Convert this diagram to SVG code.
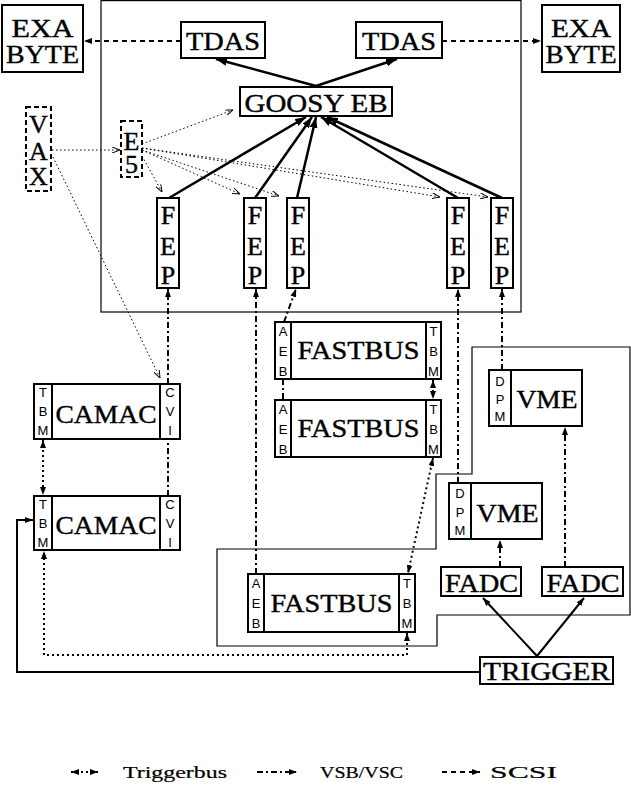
<svg xmlns="http://www.w3.org/2000/svg" width="631" height="787" viewBox="0 0 631 787">
<style>
.b{fill:#fff;stroke:#000;stroke-width:2}
.d{stroke:#000;stroke-width:2}
.frame{fill:none;stroke:#000;stroke-width:1.2}
.t{font-family:"Liberation Serif",serif;font-size:26px;text-anchor:middle;fill:#000;stroke:#000;stroke-width:0.4}
.s{font-family:"Liberation Sans",sans-serif;font-size:13px;text-anchor:middle;fill:#000}
.lg{font-family:"Liberation Serif",serif;font-size:17px;fill:#000;stroke:#000;stroke-width:0.2}
.scsi{fill:none;stroke:#000;stroke-width:2;stroke-dasharray:5 4}
.vsb{fill:none;stroke:#000;stroke-width:2;stroke-dasharray:6 3 2 3}
.tb{fill:none;stroke:#000;stroke-width:2;stroke-dasharray:2 3}
.thin{fill:none;stroke:#000;stroke-width:1;stroke-dasharray:1.5 2.5}
.sol{fill:none;stroke:#000;stroke-width:2.5}
.sol2{fill:none;stroke:#000;stroke-width:2}
</style>
<defs>
<marker id="ah" viewBox="0 0 8 6" refX="8" refY="3" markerWidth="8" markerHeight="6" orient="auto-start-reverse" markerUnits="userSpaceOnUse"><path d="M0,0 L8,3 L0,6 z" fill="#000"/></marker>
<marker id="ahb" viewBox="0 0 11 8" refX="11" refY="4" markerWidth="11" markerHeight="8" orient="auto" markerUnits="userSpaceOnUse"><path d="M0,0 L11,4 L0,8 z" fill="#000"/></marker>
<marker id="oa" viewBox="0 0 8 6" refX="8" refY="3" markerWidth="8" markerHeight="6" orient="auto" markerUnits="userSpaceOnUse"><path d="M0,0 L8,3 L0,6" fill="none" stroke="#000" stroke-width="1"/></marker>
</defs>
<g id="regions">
<rect class="frame" x="101" y="0.6" width="420" height="311.4"/>
<polygon class="frame" points="472,347 630,347 630,615 437,615 437,646 217,646 217,549 436,549 436,474 472,474"/>
</g>
<g id="nodes">
<g id="exabyte1"><rect class="b" x="2" y="5" width="81" height="67"/><text class="t" x="42.5" y="37" textLength="62" lengthAdjust="spacingAndGlyphs">EXA</text><text class="t" x="42.5" y="63" textLength="73" lengthAdjust="spacingAndGlyphs">BYTE</text></g>
<g id="exabyte2"><rect class="b" x="542" y="5" width="78" height="67"/><text class="t" x="581" y="37" textLength="60" lengthAdjust="spacingAndGlyphs">EXA</text><text class="t" x="581" y="63" textLength="71" lengthAdjust="spacingAndGlyphs">BYTE</text></g>
<g id="tdas1"><rect class="b" x="181" y="22" width="84" height="36"/><text class="t" x="223" y="50" textLength="74" lengthAdjust="spacingAndGlyphs">TDAS</text></g>
<g id="tdas2"><rect class="b" x="356" y="22" width="86" height="36"/><text class="t" x="399" y="50" textLength="74" lengthAdjust="spacingAndGlyphs">TDAS</text></g>
<g id="goosy"><rect class="b" x="240" y="87" width="152" height="29"/><text class="t" x="316" y="112" textLength="143" lengthAdjust="spacingAndGlyphs">GOOSY EB</text></g>
<g id="vax"><rect class="b" x="26" y="107" width="25" height="84" stroke-dasharray="5 3"/><text class="t" x="38.5" y="133">V</text><text class="t" x="38.5" y="160">A</text><text class="t" x="38.5" y="185">X</text></g>
<g id="e5"><rect class="b" x="121" y="121" width="21" height="56" stroke-dasharray="5 3"/><text class="t" x="131.5" y="150">E</text><text class="t" x="131.5" y="173">5</text></g>
<g id="fep1"><rect class="b" x="157" y="198" width="22" height="90"/><text class="t" x="168" y="224">F</text><text class="t" x="168" y="255">E</text><text class="t" x="168" y="284">P</text></g>
<g id="fep2"><rect class="b" x="244" y="198" width="22" height="90"/><text class="t" x="255" y="224">F</text><text class="t" x="255" y="255">E</text><text class="t" x="255" y="284">P</text></g>
<g id="fep3"><rect class="b" x="287" y="198" width="22" height="90"/><text class="t" x="298" y="224">F</text><text class="t" x="298" y="255">E</text><text class="t" x="298" y="284">P</text></g>
<g id="fep4"><rect class="b" x="447" y="198" width="22" height="90"/><text class="t" x="458" y="224">F</text><text class="t" x="458" y="255">E</text><text class="t" x="458" y="284">P</text></g>
<g id="fep5"><rect class="b" x="491" y="198" width="22" height="90"/><text class="t" x="502" y="224">F</text><text class="t" x="502" y="255">E</text><text class="t" x="502" y="284">P</text></g>
<g id="camac1"><rect class="b" x="34" y="384" width="146" height="55"/><line class="d" x1="52" y1="384" x2="52" y2="439"/><line class="d" x1="160" y1="384" x2="160" y2="439"/>
<text class="s" x="43" y="397">T</text><text class="s" x="43" y="416">B</text><text class="s" x="43" y="435">M</text>
<text class="s" x="170" y="397">C</text><text class="s" x="170" y="416">V</text><text class="s" x="170" y="435">I</text>
<text class="t" x="106" y="423" textLength="101" lengthAdjust="spacingAndGlyphs">CAMAC</text></g>
<g id="camac2"><rect class="b" x="34" y="496" width="146" height="54"/><line class="d" x1="52" y1="496" x2="52" y2="550"/><line class="d" x1="160" y1="496" x2="160" y2="550"/>
<text class="s" x="43" y="509">T</text><text class="s" x="43" y="528">B</text><text class="s" x="43" y="547">M</text>
<text class="s" x="170" y="509">C</text><text class="s" x="170" y="528">V</text><text class="s" x="170" y="547">I</text>
<text class="t" x="106" y="534" textLength="101" lengthAdjust="spacingAndGlyphs">CAMAC</text></g>
<g id="fastbus1"><rect class="b" x="275" y="322" width="166" height="57"/><line class="d" x1="291" y1="322" x2="291" y2="379"/><line class="d" x1="426" y1="322" x2="426" y2="379"/>
<text class="s" x="283" y="336">A</text><text class="s" x="283" y="356">E</text><text class="s" x="283" y="376">B</text>
<text class="s" x="433.5" y="336">T</text><text class="s" x="433.5" y="356">B</text><text class="s" x="433.5" y="376">M</text>
<text class="t" x="358.5" y="359" textLength="122" lengthAdjust="spacingAndGlyphs">FASTBUS</text></g>
<g id="fastbus2"><rect class="b" x="275" y="400" width="166" height="57"/><line class="d" x1="291" y1="400" x2="291" y2="457"/><line class="d" x1="426" y1="400" x2="426" y2="457"/>
<text class="s" x="283" y="414">A</text><text class="s" x="283" y="434">E</text><text class="s" x="283" y="454">B</text>
<text class="s" x="433.5" y="414">T</text><text class="s" x="433.5" y="434">B</text><text class="s" x="433.5" y="454">M</text>
<text class="t" x="358.5" y="437" textLength="122" lengthAdjust="spacingAndGlyphs">FASTBUS</text></g>
<g id="fastbus3"><rect class="b" x="248" y="574" width="167" height="58"/><line class="d" x1="264" y1="574" x2="264" y2="632"/><line class="d" x1="399" y1="574" x2="399" y2="632"/>
<text class="s" x="256" y="588">A</text><text class="s" x="256" y="608">E</text><text class="s" x="256" y="628">B</text>
<text class="s" x="407" y="588">T</text><text class="s" x="407" y="608">B</text><text class="s" x="407" y="628">M</text>
<text class="t" x="331.5" y="612" textLength="122" lengthAdjust="spacingAndGlyphs">FASTBUS</text></g>
<g id="vme1"><rect class="b" x="489" y="370" width="93" height="56"/><line class="d" x1="511" y1="370" x2="511" y2="426"/>
<text class="s" x="500" y="386">D</text><text class="s" x="500" y="404">P</text><text class="s" x="500" y="421">M</text>
<text class="t" x="547" y="408" textLength="61" lengthAdjust="spacingAndGlyphs">VME</text></g>
<g id="vme2"><rect class="b" x="449" y="483" width="93" height="56"/><line class="d" x1="471" y1="483" x2="471" y2="539"/>
<text class="s" x="460" y="498">D</text><text class="s" x="460" y="517">P</text><text class="s" x="460" y="535">M</text>
<text class="t" x="507.5" y="522" textLength="62" lengthAdjust="spacingAndGlyphs">VME</text></g>
<g id="fadc1"><rect class="b" x="441" y="567" width="80" height="29"/><text class="t" x="481.5" y="592" textLength="73" lengthAdjust="spacingAndGlyphs">FADC</text></g>
<g id="fadc2"><rect class="b" x="542" y="567" width="81" height="29"/><text class="t" x="583" y="592" textLength="73" lengthAdjust="spacingAndGlyphs">FADC</text></g>
<g id="trigger"><rect class="b" x="480" y="657" width="133" height="27"/><text class="t" x="546.5" y="680" textLength="127" lengthAdjust="spacingAndGlyphs">TRIGGER</text></g>
</g>
<g id="connectors">
<path class="scsi" d="M181,41 H84" marker-end="url(#ah)"/>
<path class="scsi" d="M442,41 H541" marker-end="url(#ah)"/>
<path class="sol" d="M316,86 L216,59" marker-end="url(#ahb)"/>
<path class="sol" d="M316,86 L397,59" marker-end="url(#ahb)"/>
<path class="sol" d="M169,198 L306,117" marker-end="url(#ahb)"/>
<path class="sol" d="M255,198 L312,117" marker-end="url(#ahb)"/>
<path class="sol" d="M297,198 L316,117" marker-end="url(#ahb)"/>
<path class="sol" d="M458,198 L321,117" marker-end="url(#ahb)"/>
<path class="sol" d="M502,198 L327,117" marker-end="url(#ahb)"/>
<path class="thin" d="M52,150 L120,150" marker-end="url(#oa)"/>
<path class="thin" d="M53,157 L160,378" marker-end="url(#oa)"/>
<path class="thin" d="M142,144 L233,110" marker-end="url(#oa)"/>
<path class="thin" d="M142,156 L162,192" marker-end="url(#oa)"/>
<path class="thin" d="M142,150 L240,194" marker-end="url(#oa)"/>
<path class="thin" d="M142,150 L279,196" marker-end="url(#oa)"/>
<path class="thin" d="M142,148 L440,197" marker-end="url(#oa)"/>
<path class="thin" d="M142,148 L488,197" marker-end="url(#oa)"/>
<path class="vsb" d="M168,384 V289" marker-end="url(#ah)"/>
<path class="vsb" d="M168,496 V440"/>
<path class="vsb" d="M256,574 V289" marker-end="url(#ah)"/>
<path class="vsb" d="M284,322 L296,289" marker-end="url(#ah)"/>
<path class="vsb" d="M283,379 V400"/>
<path class="vsb" d="M458,483 V289" marker-end="url(#ah)"/>
<path class="vsb" d="M502,370 V289" marker-end="url(#ah)"/>
<path class="vsb" d="M500,567 V540" marker-end="url(#ah)"/>
<path class="vsb" d="M565,567 V427" marker-end="url(#ah)"/>
<path class="tb" d="M43,440 V495" marker-start="url(#ah)" marker-end="url(#ah)"/>
<path class="tb" d="M433,380 V399" marker-start="url(#ah)" marker-end="url(#ah)"/>
<path class="tb" d="M433,458 L408,573" marker-start="url(#ah)" marker-end="url(#ah)"/>
<path class="tb" d="M407,633 V655 H44 V551" marker-start="url(#ah)" marker-end="url(#ah)"/>
<path class="sol2" d="M480,672 H17 V520 H33" marker-end="url(#ah)"/>
<path class="sol2" d="M537,656 L483,598" marker-end="url(#ah)"/>
<path class="sol2" d="M537,656 L584,598" marker-end="url(#ah)"/>
</g>
<g id="legend">
<path class="tb" d="M71,772 H98" marker-start="url(#ah)" marker-end="url(#ah)"/>
<text class="lg" x="123" y="778" textLength="104" lengthAdjust="spacingAndGlyphs">Triggerbus</text>
<path class="vsb" d="M257,772 H297" marker-end="url(#ah)"/>
<text class="lg" x="320" y="778" textLength="83" lengthAdjust="spacingAndGlyphs">VSB/VSC</text>
<path class="scsi" d="M442,772 H480" marker-end="url(#ah)"/>
<text class="lg" x="490" y="778" textLength="67" lengthAdjust="spacingAndGlyphs">SCSI</text>
</g>
</svg>
